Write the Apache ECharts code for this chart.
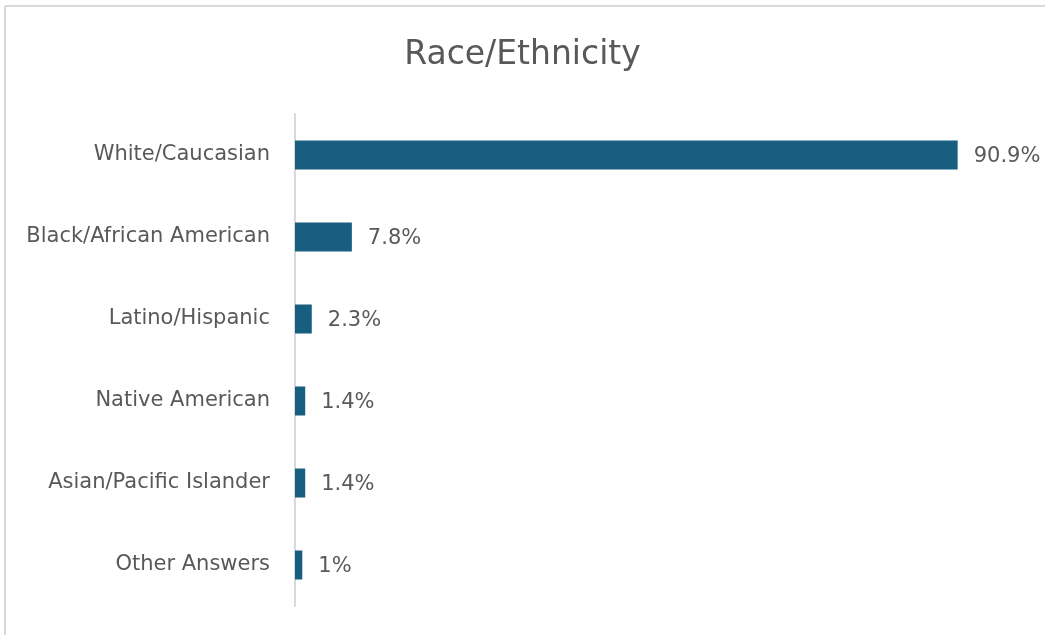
<!DOCTYPE html>
<html>
<head>
<meta charset="utf-8">
<script src="https://cdn.jsdelivr.net/npm/echarts@6/dist/echarts.min.js"></script>
<style>
html,body{margin:0;padding:0;background:#fff;}
#chart{width:1045px;height:635px;}
</style>
</head>
<body>
<div id="chart"></div>
<script>
const titleText = "Race/Ethnicity";
const categories = ["White/Caucasian","Black/African American","Latino/Hispanic","Native American","Asian/Pacific Islander","Other Answers"];
const values = [90.9, 7.8, 2.3, 1.4, 1.4, 1];

const chart = echarts.init(document.getElementById('chart'), null, {renderer:'canvas'});
chart.setOption({
  backgroundColor:'#ffffff',
  animation:false,
  title:{
    text:titleText,
    left:'center',
    top:34,
    textStyle:{fontFamily:'DejaVu Sans',fontSize:33,fontWeight:'normal',color:'#595959'}
  },
  graphic:[
    {type:'line',shape:{x1:5,y1:6,x2:1045,y2:6},style:{stroke:'#d9d9d9',lineWidth:2},silent:true},
    {type:'line',shape:{x1:5,y1:6,x2:5,y2:635},style:{stroke:'#d9d9d9',lineWidth:2},silent:true}
  ],
  grid:{left:295,right:21,top:114,bottom:29,containLabel:false},
  xAxis:{
    type:'value',min:0,max:100,show:false
  },
  yAxis:{
    type:'category',
    data:categories,
    inverse:true,
    axisLine:{show:true,lineStyle:{color:'#d9d9d9',width:2}},
    axisTick:{show:false},
    axisLabel:{margin:25,fontFamily:'DejaVu Sans',fontSize:21,color:'#595959',padding:[3,0,0,0]},
    splitLine:{show:false}
  },
  series:[{
    type:'bar',
    data:values,
    barWidth:29,
    itemStyle:{color:'#185E81'},
    label:{
      show:true,position:'right',distance:16,offset:[0,2],
      fontFamily:'DejaVu Sans',fontSize:21,color:'#595959',
      formatter:p=>p.value+'%'
    }
  }]
});
</script>
</body>
</html>
